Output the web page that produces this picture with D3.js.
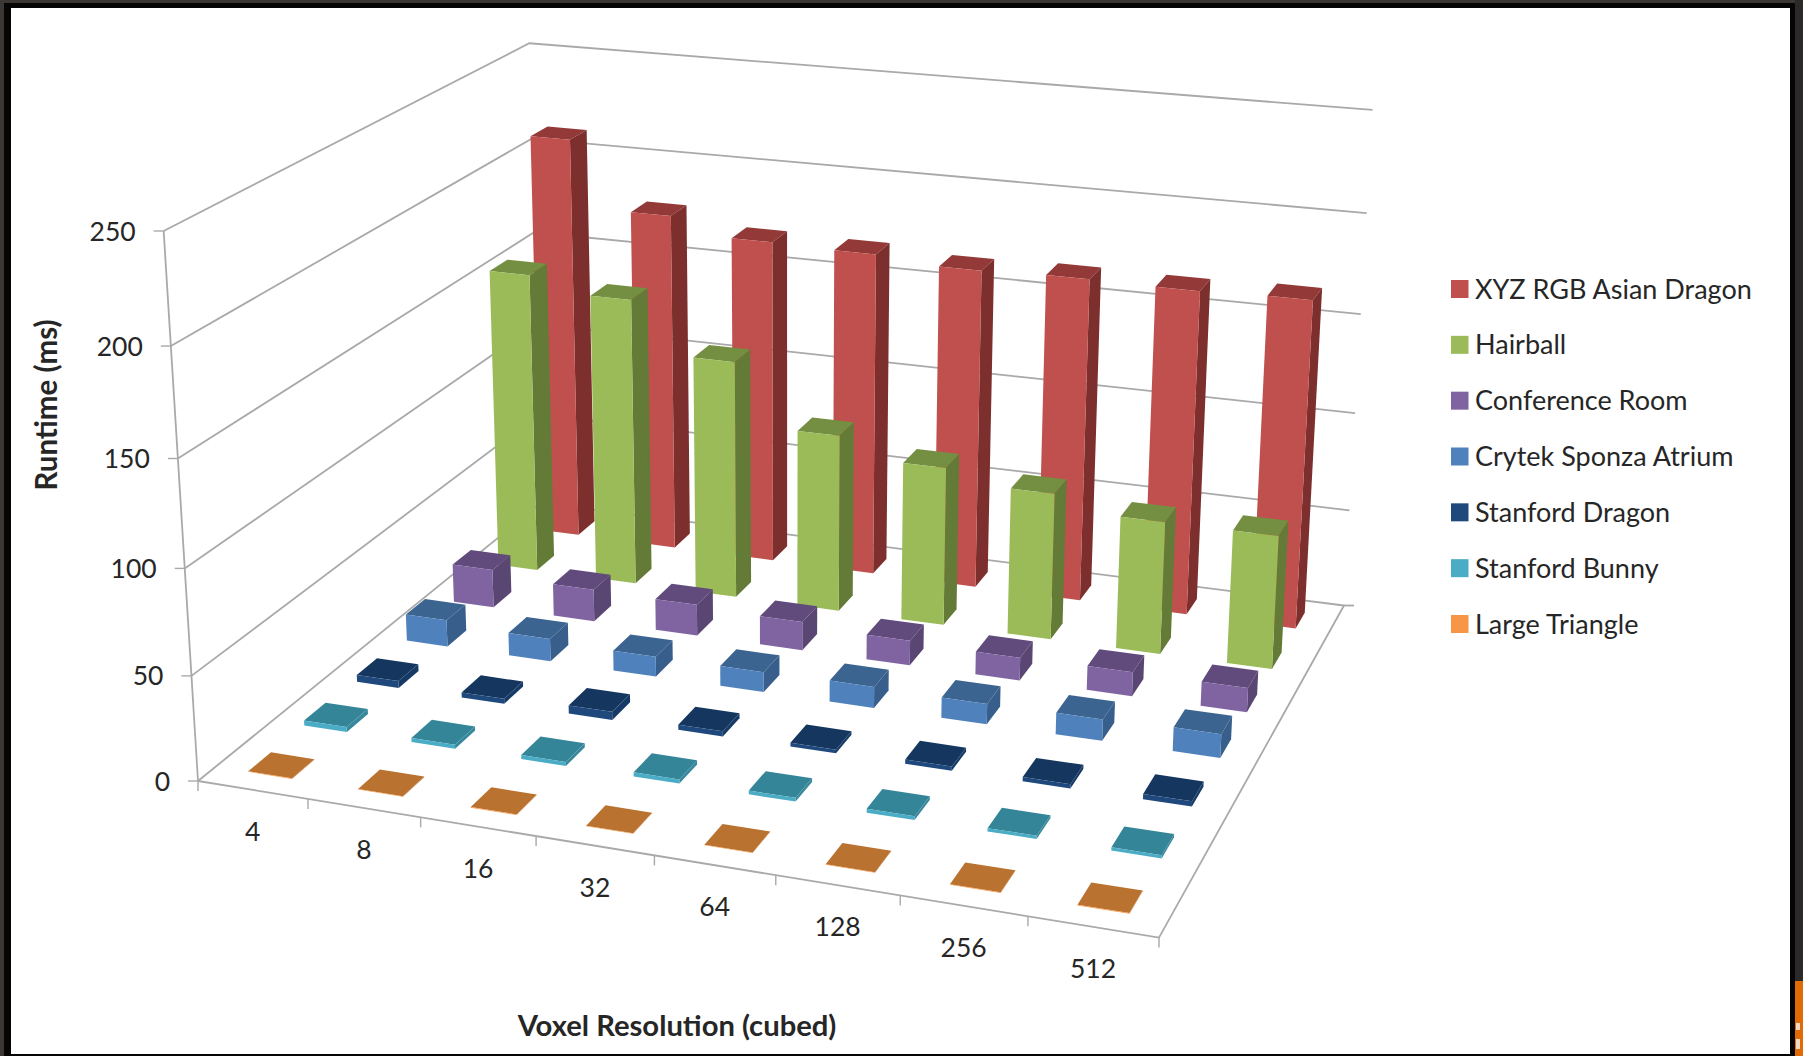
<!DOCTYPE html>
<html>
<head>
<meta charset="utf-8">
<script src="https://cdn.jsdelivr.net/npm/d3@7"></script>
<style>
  html, body { margin: 0; padding: 0; background: #000; }
  svg { display: block; }
  text { font-family: Lato, "Open Sans", sans-serif; fill: #262626; }
</style>
</head>
<body>
<script>
// Voxelization runtime per scene and grid resolution.
const resolutions = ["4", "8", "16", "32", "64", "128", "256", "512"];
const sceneNames = ["XYZ RGB Asian Dragon", "Hairball", "Conference Room", "Crytek Sponza Atrium",
                    "Stanford Dragon", "Stanford Bunny", "Large Triangle"];
const asianDragon = [211.5, 177, 168.5, 167.5, 164.5, 165.5, 165, 166];
const hairball    = [155.8, 148.5, 122.5, 91, 81, 74.5, 67, 67];
const conference  = [19.7, 16.5, 16, 14.5, 12.5, 11.5, 12, 12];
const sponza      = [13.5, 11.5, 10, 10, 10.5, 10, 10.5, 11.5];
const stanDragon  = [3.5, 2.5, 4, 2.5, 1.8, 2, 2, 2.5];
const bunny       = [2.5, 2, 2, 2, 1.8, 1.8, 1.5, 1.5];
const triangle    = [0.3, 0.3, 0.3, 0.3, 0.3, 0.3, 0.3, 0.3];
const seriesValues = [asianDragon, hairball, conference, sponza, stanDragon, bunny, triangle];
const valueTicks = [0, 50, 100, 150, 200, 250];
const frontColors = ["#C0504D", "#9BBB59", "#8064A2", "#4F81BD", "#1F497D", "#4BACC6", "#F79646"];
const sideColors  = ["#7C2F2D", "#647A37", "#5A4672", "#385F8C", "#163A66", "#38889D", "#C0702E"];
const topColors   = ["#933A38", "#748F41", "#614A7C", "#3C6490", "#15375F", "#358598", "#B9722F"];

const W = 1803, H = 1056;

// Camera: floor corners, the vertical vanishing point and the top of the front-left post.
const floorFL = [198, 781], floorFR = [1159, 937.6], floorBR = [1344, 605.5], floorBL = [541, 503];
const verticalVP = [789, 10246];
const postTop = [163.6, 231];

// Unit square to quad homography, columns cu, cv, c0.
function squareToQuad(p00, p10, p11, p01) {
  const dx1 = p10[0] - p11[0], dx2 = p01[0] - p11[0], sx = p00[0] - p10[0] + p11[0] - p01[0];
  const dy1 = p10[1] - p11[1], dy2 = p01[1] - p11[1], sy = p00[1] - p10[1] + p11[1] - p01[1];
  const det = dx1 * dy2 - dx2 * dy1;
  const g = (sx * dy2 - dx2 * sy) / det, h = (dx1 * sy - sx * dy1) / det;
  return {
    cu: [p10[0] - p00[0] + g * p10[0], p10[1] - p00[1] + g * p10[1], g],
    cv: [p01[0] - p00[0] + h * p01[0], p01[1] - p00[1] + h * p01[1], h],
    c0: [p00[0], p00[1], 1]
  };
}
const floorH = squareToQuad(floorFL, floorFR, floorBR, floorBL);
const vScale = (postTop[1] - floorFL[1]) / (verticalVP[1] - postTop[1]);
const cw = [vScale * verticalVP[0], vScale * verticalVP[1], vScale];

// Project a chart-space point: u along resolutions, v into depth, w up.
function project(u, v, w) {
  const c = i => floorH.cu[i] * u + floorH.cv[i] * v + floorH.c0[i] + cw[i] * w;
  const d = c(2);
  return [c(0) / d, c(1) / d];
}

const uScale = d3.scaleBand().domain(resolutions).range([0, 1]).paddingInner(0.6).paddingOuter(0.3);
const vBand = d3.scaleBand().domain(sceneNames).range([1, 0]).paddingInner(0.6).paddingOuter(0.3);
const wScale = d3.scaleLinear().domain([0, 250]).range([0, 1]);
const slotU = d3.scalePoint().domain(d3.range(resolutions.length + 1)).range([0, 1]);

const svg = d3.select("body").append("svg").attr("width", W).attr("height", H);

// Dark surround, window edge and white page.
svg.append("rect").attr("width", W).attr("height", H).attr("fill", "#050505");
svg.append("rect").attr("width", W).attr("height", 3).attr("fill", "#3b3734");
svg.append("rect").attr("width", 4).attr("height", H).attr("fill", "#3b3734");
svg.append("rect").attr("x", 1795).attr("width", 8).attr("height", H).attr("fill", "#2c2a29");
svg.append("rect").attr("x", 1795).attr("y", 981).attr("width", 8).attr("height", 75).attr("fill", "#E06A06");
svg.append("rect").attr("x", 1796).attr("y", 1023).attr("width", 4).attr("height", 7).attr("fill", "#f3d9c2");
svg.append("rect").attr("x", 1796).attr("y", 1039).attr("width", 4).attr("height", 10).attr("fill", "#f3d9c2");
svg.append("rect").attr("x", 11).attr("y", 8).attr("width", 1779).attr("height", 1046).attr("fill", "#fff");

const poly = d3.line();
const gridColor = "#a9a9a9";
const grid = svg.append("g").attr("fill", "none").attr("stroke", gridColor).attr("stroke-width", 1.8);

// Left-wall and back-wall gridlines.
grid.selectAll("path.wall").data(valueTicks).join("path").attr("class", "wall")
  .attr("d", t => {
    const w = wScale(t);
    return poly([project(0, 0, w), project(0, 1, w), project(1, 1, w)]);
  });
// Front-left post, floor edges.
grid.append("path").attr("d", poly([project(0, 0, 1), project(0, 0, 0)]));
grid.append("path").attr("d", poly([project(0, 0, 0), project(1, 0, 0), project(1, 1, 0)]));

// Value ticks and labels.
const yAxis = svg.append("g");
yAxis.selectAll("path").data(valueTicks).join("path")
  .attr("fill", "none").attr("stroke", gridColor).attr("stroke-width", 1.4)
  .attr("d", t => { const p = project(0, 0, wScale(t)); return poly([[p[0] - 10, p[1]], p]); });
yAxis.selectAll("text").data(valueTicks).join("text")
  .attr("text-anchor", "end").attr("dominant-baseline", "central").attr("font-size", 26.5)
  .attr("x", t => project(0, 0, wScale(t))[0] - 28)
  .attr("y", t => project(0, 0, wScale(t))[1] - 0.5)
  .text(t => t);
const backTick = project(1, 1, 0);
grid.append("path").attr("d", poly([backTick, [backTick[0] + 10, backTick[1]]]));

// Resolution ticks and labels along the front floor edge.
const xAxis = svg.append("g");
xAxis.selectAll("path").data(slotU.domain()).join("path")
  .attr("fill", "none").attr("stroke", gridColor).attr("stroke-width", 1.4)
  .attr("d", i => { const p = project(slotU(i), 0, 0); return poly([p, [p[0], p[1] + 10]]); });
xAxis.selectAll("text").data(resolutions).join("text")
  .attr("text-anchor", "middle").attr("dominant-baseline", "central").attr("font-size", 26.5)
  .attr("x", d => project(uScale(d) + uScale.bandwidth() / 2, 0, 0)[0])
  .attr("y", d => project(uScale(d) + uScale.bandwidth() / 2, 0, 0)[1] + 41)
  .text(d => d);

// Bars, back row first so nearer rows overlap them.
const rows = svg.selectAll("g.row").data(sceneNames).join("g").attr("class", "row");
rows.each(function (name, si) {
  const row = d3.select(this);
  const v0 = vBand(name), v1 = v0 + vBand.bandwidth();
  const bars = row.selectAll("g").data(seriesValues[si]).join("g");
  bars.each(function (val, ci) {
    const u0 = uScale(resolutions[ci]), u1 = u0 + uScale.bandwidth(), w = wScale(val);
    const g = d3.select(this);
    g.append("path").attr("fill", topColors[si])
      .attr("d", poly([project(u0, v0, w), project(u1, v0, w), project(u1, v1, w), project(u0, v1, w)]) + "Z");
    g.append("path").attr("fill", sideColors[si])
      .attr("d", poly([project(u1, v0, 0), project(u1, v1, 0), project(u1, v1, w), project(u1, v0, w)]) + "Z");
    g.append("path").attr("fill", frontColors[si])
      .attr("d", poly([project(u0, v0, 0), project(u1, v0, 0), project(u1, v0, w), project(u0, v0, w)]) + "Z");
  });
});

// Axis titles.
svg.append("text").attr("font-weight", 700).attr("font-size", 29.5).attr("text-anchor", "middle")
  .attr("transform", "translate(45,405) rotate(-90)").attr("dominant-baseline", "central").text("Runtime (ms)");
svg.append("text").attr("font-weight", 700).attr("font-size", 29.2).attr("text-anchor", "middle")
  .attr("x", 677).attr("y", 1024).attr("dominant-baseline", "central").text("Voxel Resolution (cubed)");

// Legend.
const legendY = d3.scalePoint().domain(sceneNames).range([288, 623]);
const legend = svg.selectAll("g.legend").data(sceneNames).join("g").attr("class", "legend")
  .attr("transform", d => `translate(1451,${legendY(d)})`);
legend.append("rect").attr("y", -8).attr("width", 17.5).attr("height", 18).attr("fill", (d, i) => frontColors[i]);
legend.append("text").attr("x", 24).attr("dominant-baseline", "central").attr("font-size", 27).text(d => d);
</script>
</body>
</html>
